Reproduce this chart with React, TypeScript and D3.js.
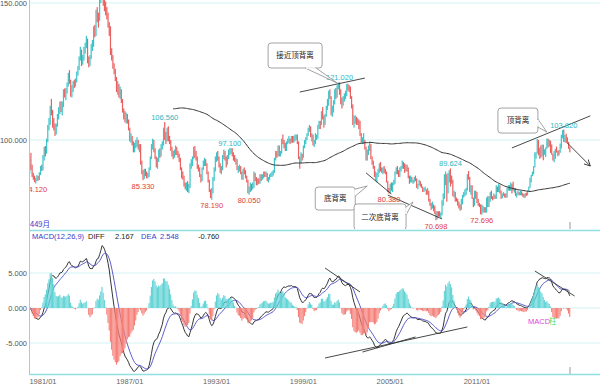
import React from "react";
import * as d3 from "d3";

// monthly US dollar index, first bar = 1980/02
const firstOpen = 88.0;

const closes: number[] = [
  92.0, 90.0, 87.0, 86.3, 85.0, 85.4, 86.5, 85.7, 87.6, 89.8, 89.5,
  93.0, 96.0, 95.5, 99.8, 104.5, 106.0, 111.5, 110.5, 106.5, 105.2, 102.5, 105.3,
  108.5, 110.5, 113.0, 111.0, 112.5, 117.0, 116.2, 117.5, 120.2, 123.0, 121.5, 116.5,
  119.0, 120.8, 120.5, 121.8, 124.5, 126.0, 129.8, 132.5, 128.5, 130.0, 133.0, 134.0,
  136.5, 129.0, 127.5, 130.0, 134.0, 134.5, 140.8, 138.5, 146.0, 145.5, 144.0, 151.0,
  154.0, 158.5, 151.0, 149.0, 147.5, 145.5, 142.0, 139.5, 132.0, 130.0, 127.0, 125.0,
  122.5, 118.5, 119.5, 116.5, 118.0, 114.5, 110.5, 109.0, 108.0, 108.5, 107.0, 104.0,
  100.5, 101.0, 99.0, 96.5, 98.0, 98.5, 99.5, 97.0, 97.5, 92.0, 88.5, 86.5,
  88.5, 88.0, 86.5, 87.0, 89.5, 93.5, 97.5, 98.8, 96.5, 93.5, 91.0, 92.5,
  96.0, 94.5, 97.5, 98.5, 104.0, 101.5, 100.0, 103.0, 100.5, 99.5, 97.0, 95.0,
  94.5, 95.5, 97.0, 95.5, 94.5, 93.0, 89.5, 87.0, 86.5, 83.5, 83.0, 84.0,
  82.0, 83.0, 90.5, 91.5, 93.5, 96.5, 94.5, 93.5, 90.0, 89.5, 87.0, 85.5,
  89.5, 91.5, 92.5, 91.5, 88.0, 85.0, 81.5, 79.5, 81.0, 85.5, 89.5, 93.0,
  94.5, 93.5, 91.0, 88.5, 89.5, 93.5, 95.5, 93.5, 91.5, 93.5, 95.5, 96.0,
  96.5, 94.5, 94.0, 92.5, 92.5, 89.5, 89.5, 90.0, 88.0, 86.0, 89.0, 88.5,
  86.5, 85.0, 81.5, 82.0, 83.5, 82.5, 83.0, 87.5, 85.5, 84.5, 85.0, 84.5,
  87.0, 86.0, 86.5, 87.5, 87.0, 87.5, 85.5, 85.5, 87.0, 87.5, 87.5, 88.5,
  93.0, 95.0, 94.5, 97.5, 94.5, 95.5, 100.0, 99.0, 98.5, 96.5, 99.0, 99.5,
  100.0, 99.5, 101.0, 99.5, 100.5, 101.0, 101.5, 99.0, 93.5, 92.0, 94.5, 94.0,
  97.5, 99.5, 100.5, 102.0, 104.0, 104.5, 101.5, 101.5, 98.5, 99.0, 101.5, 101.5,
  105.0, 106.5, 106.0, 110.0, 108.5, 106.0, 109.0, 112.0, 113.5, 117.0, 115.5, 109.5,
  111.0, 114.0, 117.5, 116.0, 119.5, 120.5, 117.5, 114.0, 113.0, 115.0, 116.5, 116.8,
  120.0, 119.5, 119.0, 115.5, 112.5, 106.5, 107.5, 107.5, 107.0, 107.0, 106.5, 102.0,
  99.5, 99.5, 99.5, 97.0, 93.5, 95.5, 97.0, 98.5, 93.5, 92.0, 90.5, 87.0,
  87.5, 87.5, 88.5, 91.0, 89.0, 88.5, 89.5, 89.0, 88.0, 85.0, 81.5, 81.0,
  83.5, 82.0, 84.0, 84.5, 88.0, 89.5, 88.5, 87.5, 89.5, 90.0, 91.5, 91.0,
  89.0, 90.0, 89.5, 86.5, 85.0, 85.5, 85.0, 85.0, 86.0, 85.5, 83.0, 83.5,
  84.5, 83.5, 83.0, 81.5, 82.0, 82.0, 80.5, 81.0, 78.0, 76.5, 76.0, 76.5,
  74.5, 73.5, 72.0, 73.5, 73.0, 72.5, 73.0, 77.0, 79.5, 86.0, 87.0, 81.5,
  87.5, 88.5, 85.5, 85.0, 80.0, 80.0, 78.5, 78.0, 76.5, 76.0, 75.0, 78.0,
  79.5, 80.5, 81.0, 82.0, 86.5, 86.0, 81.5, 83.0, 79.0, 77.5, 81.0, 79.0,
  77.5, 76.5, 76.0, 73.0, 74.5, 74.5, 74.0, 74.5, 78.5, 76.0, 78.5, 80.0,
  79.0, 78.5, 79.0, 78.8, 83.0, 81.5, 82.5, 81.0, 79.5, 80.0, 80.0, 79.8,
  79.2, 82.0, 83.0, 82.0, 83.5, 83.2, 81.5, 82.0, 80.2, 80.2, 80.7, 80.0,
  81.2, 80.2, 80.1, 79.5, 80.4, 79.8, 81.5, 82.8, 86.0, 87.0, 88.4, 90.3,
  94.8, 95.3, 98.4, 94.6, 96.9, 95.5, 97.3, 95.9, 96.3, 97.0, 100.2, 98.6,
  99.6, 98.2, 94.6, 93.0, 95.9, 96.1, 95.5, 96.0, 95.4, 98.4, 101.5, 102.2,
  99.5, 101.1, 100.4, 99.1, 97.0, 95.6,
];

const highs: number[] = [
  93.0, 95.3, 91.0, 88.0, 87.0, 86.2, 87.2, 86.9, 88.2, 90.5, 91.0,
  94.5, 97.5, 97.8, 100.5, 105.5, 108.0, 112.5, 115.0, 111.0, 108.0, 106.0, 106.0,
  109.5, 112.0, 114.0, 114.2, 114.0, 118.5, 118.8, 119.0, 121.0, 124.5, 125.5, 122.0,
  120.0, 121.5, 122.0, 122.5, 125.0, 127.0, 130.5, 134.0, 133.0, 131.0, 134.0, 135.5,
  138.0, 137.0, 130.5, 131.0, 135.0, 136.5, 141.5, 142.0, 147.5, 148.5, 146.5, 151.8,
  156.0, 164.7, 160.0, 153.0, 150.5, 148.5, 146.5, 143.0, 141.5, 133.5, 131.0, 128.0,
  126.0, 123.0, 121.5, 120.5, 119.5, 118.5, 115.0, 111.5, 110.5, 110.0, 109.5, 107.5,
  104.5, 102.5, 101.5, 99.5, 99.0, 100.0, 101.0, 100.0, 98.5, 98.5, 92.5, 89.0,
  89.5, 89.5, 88.5, 88.0, 90.0, 94.0, 98.5, 100.5, 100.0, 97.0, 94.0, 93.5,
  96.5, 97.0, 98.5, 99.5, 104.5, 106.56, 103.0, 104.5, 105.0, 101.5, 100.0, 97.5,
  96.0, 96.5, 98.0, 97.5, 96.0, 95.0, 93.5, 90.0, 88.5, 87.0, 84.5, 84.5,
  85.0, 84.0, 91.5, 93.0, 94.0, 97.5, 97.8, 96.0, 94.0, 91.0, 90.0, 87.5,
  90.0, 92.5, 93.5, 93.0, 91.5, 88.5, 85.5, 82.0, 82.5, 86.5, 90.0, 94.0,
  95.5, 96.0, 94.0, 91.5, 90.5, 94.5, 96.5, 96.0, 94.0, 94.5, 96.5, 97.1,
  97.0, 97.0, 95.5, 94.5, 93.5, 93.0, 90.5, 91.0, 90.5, 88.5, 89.5, 90.0,
  89.0, 87.0, 85.5, 83.0, 84.5, 84.0, 84.5, 88.5, 88.0, 86.5, 86.0, 86.0,
  87.5, 87.5, 87.5, 88.5, 88.5, 88.5, 88.0, 86.5, 87.5, 88.0, 88.5, 89.0,
  93.5, 96.0, 96.0, 98.0, 98.0, 96.0, 100.5, 102.0, 100.0, 99.0, 99.5, 100.5,
  101.5, 100.5, 101.5, 101.5, 101.5, 102.0, 102.0, 102.0, 99.5, 94.0, 95.5, 95.0,
  98.0, 100.0, 101.0, 102.5, 104.5, 105.5, 105.0, 102.5, 102.0, 100.0, 102.5, 102.0,
  105.5, 107.0, 107.0, 110.5, 112.0, 109.0, 109.5, 112.5, 115.0, 118.0, 118.5, 116.0,
  112.5, 114.5, 118.5, 119.0, 120.0, 121.0, 121.02, 118.5, 115.5, 116.0, 117.0, 118.0,
  120.5, 120.5, 120.0, 119.5, 116.0, 113.0, 109.0, 109.0, 108.5, 108.0, 107.5, 107.0,
  102.5, 101.0, 102.5, 100.0, 97.5, 96.5, 98.0, 99.5, 98.5, 94.0, 92.5, 90.5,
  88.5, 88.0, 89.5, 91.5, 92.0, 90.0, 90.0, 90.5, 89.5, 88.5, 85.0, 82.5,
  84.0, 84.5, 84.5, 85.5, 88.5, 90.0, 90.5, 89.0, 90.0, 90.5, 92.5, 92.0,
  91.5, 91.0, 91.0, 90.0, 87.0, 87.0, 86.5, 85.5, 86.5, 87.0, 86.0, 84.0,
  85.5, 85.0, 84.0, 83.0, 82.5, 83.0, 82.0, 82.5, 81.5, 78.5, 77.0, 77.5,
  76.5, 76.0, 74.0, 74.0, 74.0, 74.0, 73.5, 78.0, 80.5, 87.5, 88.5, 87.5,
  88.0, 89.0, 89.624, 87.0, 85.5, 81.5, 81.0, 79.0, 78.5, 77.5, 76.5, 78.5,
  80.0, 81.0, 82.0, 82.5, 87.5, 88.7, 86.5, 83.5, 83.5, 79.0, 81.5, 81.5,
  81.0, 78.5, 77.0, 76.5, 76.5, 76.0, 75.5, 75.5, 79.0, 79.5, 79.5, 81.0,
  81.5, 79.5, 80.5, 80.0, 83.5, 83.0, 84.0, 83.5, 81.5, 80.5, 81.0, 80.5,
  80.5, 82.5, 83.5, 83.5, 84.5, 84.0, 84.8, 82.5, 82.5, 80.8, 81.5, 81.0,
  81.5, 81.3, 80.6, 80.3, 80.6, 80.8, 81.6, 83.0, 86.2, 87.3, 88.5, 90.5,
  95.5, 95.5, 100.4, 100.0, 97.2, 98.0, 98.3, 98.3, 96.6, 97.3, 100.5, 100.5,
  100.1, 99.8, 98.4, 95.0, 96.0, 96.8, 97.6, 96.1, 96.3, 98.7, 101.9, 103.6,
  103.82, 101.8, 102.3, 101.0, 99.3, 97.6,
];

const lows: number[] = [
  87.5, 89.0, 86.5, 85.5, 84.6, 84.12, 85.0, 85.2, 85.4, 87.2, 88.7,
  88.9, 92.5, 94.0, 95.0, 99.2, 103.5, 105.5, 109.0, 104.5, 103.5, 101.5, 102.0,
  104.8, 107.5, 109.5, 110.2, 109.0, 112.0, 115.5, 114.5, 117.0, 119.5, 120.5, 115.8,
  115.5, 117.5, 119.0, 119.5, 121.0, 123.5, 125.5, 129.0, 127.0, 127.5, 129.0, 131.5,
  133.5, 128.0, 126.5, 127.0, 129.5, 132.5, 134.0, 137.5, 138.0, 143.0, 141.0, 143.5,
  150.0, 153.0, 149.0, 147.0, 145.5, 144.0, 141.0, 138.0, 131.0, 129.0, 126.0, 124.0,
  121.5, 117.5, 116.5, 115.5, 115.0, 113.5, 110.0, 107.5, 106.5, 106.0, 106.0, 103.5,
  99.5, 99.0, 98.0, 95.5, 95.5, 97.0, 97.5, 96.5, 95.5, 91.0, 87.5, 85.33,
  85.8, 86.8, 86.0, 86.0, 86.5, 89.0, 93.0, 96.5, 95.5, 93.0, 90.0, 89.5,
  92.0, 93.5, 94.0, 96.5, 98.0, 100.0, 98.5, 99.5, 99.5, 98.5, 96.0, 94.0,
  93.0, 93.5, 94.5, 94.5, 93.5, 92.0, 89.0, 86.0, 85.5, 83.0, 82.0, 81.5,
  81.0, 80.6, 82.5, 89.5, 90.5, 93.0, 93.5, 92.5, 89.5, 88.5, 86.5, 84.5,
  85.0, 89.0, 90.5, 90.5, 87.5, 84.5, 81.0, 78.8, 78.19, 80.5, 85.0, 88.5,
  92.0, 92.5, 90.0, 88.0, 87.5, 89.0, 93.0, 92.5, 90.0, 91.0, 93.0, 94.5,
  95.0, 94.0, 92.5, 92.0, 91.0, 89.0, 88.0, 88.5, 87.5, 85.5, 85.5, 87.5,
  86.0, 84.5, 80.5, 80.05, 81.0, 81.5, 82.0, 82.5, 85.0, 83.5, 83.5, 84.0,
  84.0, 85.0, 85.5, 86.0, 86.5, 86.5, 85.0, 84.5, 85.5, 86.5, 86.5, 87.0,
  88.0, 92.5, 93.5, 94.0, 94.0, 94.0, 95.0, 98.5, 97.0, 96.0, 96.0, 98.5,
  99.0, 98.5, 99.0, 99.0, 99.0, 99.5, 100.0, 98.5, 93.0, 89.5, 91.5, 92.5,
  93.5, 97.0, 98.5, 100.0, 101.5, 103.0, 101.0, 99.5, 98.0, 97.5, 98.5, 100.0,
  100.5, 104.0, 104.0, 105.5, 107.5, 104.5, 105.5, 108.5, 111.0, 112.5, 115.0, 109.0,
  108.5, 110.0, 113.0, 115.0, 115.5, 118.5, 116.5, 113.0, 111.5, 112.5, 114.0, 115.0,
  116.0, 118.0, 117.5, 115.0, 111.5, 105.5, 104.5, 106.0, 105.5, 105.5, 104.0, 101.5,
  99.0, 98.5, 98.5, 96.5, 92.5, 92.5, 94.5, 96.0, 93.0, 91.0, 89.5, 86.5,
  85.0, 84.5, 86.5, 88.0, 88.5, 88.0, 87.5, 88.0, 87.5, 84.5, 81.0, 80.38,
  80.5, 81.5, 81.0, 83.5, 84.0, 87.5, 87.5, 86.5, 86.5, 88.5, 89.5, 89.5,
  88.0, 88.5, 88.5, 86.0, 84.0, 84.5, 84.5, 84.0, 84.5, 85.0, 82.5, 82.0,
  83.5, 83.0, 82.5, 81.0, 81.0, 81.5, 80.0, 80.0, 77.5, 76.0, 74.5, 75.0,
  74.0, 73.0, 70.698, 71.0, 72.0, 72.0, 71.5, 72.5, 76.0, 78.5, 83.5, 77.5,
  80.5, 84.5, 83.0, 84.0, 79.5, 79.0, 77.5, 77.5, 76.0, 75.0, 74.2, 74.5,
  76.5, 79.0, 79.5, 80.0, 81.5, 85.5, 81.0, 80.0, 78.5, 75.5, 76.0, 78.5,
  77.0, 76.0, 75.5, 72.9, 72.696, 73.5, 73.5, 73.5, 73.5, 75.5, 75.5, 77.5,
  78.5, 78.0, 78.5, 78.5, 78.5, 81.0, 81.0, 80.5, 78.5, 78.8, 79.5, 79.0,
  78.9, 79.0, 81.5, 81.5, 81.5, 80.5, 81.5, 80.8, 79.6, 79.0, 80.0, 79.8,
  79.8, 79.8, 79.3, 78.9, 78.9, 79.6, 79.8, 81.3, 82.5, 84.5, 86.8, 87.5,
  90.0, 93.2, 95.1, 94.4, 93.1, 93.5, 94.1, 92.6, 94.6, 93.8, 96.8, 97.3,
  97.6, 95.3, 94.6, 92.5, 91.9, 93.1, 95.4, 94.0, 94.4, 95.3, 96.9, 100.6,
  99.2, 99.2, 98.9, 98.8, 96.8, 95.5,
];

const priceTicks = [100, 150];
const macdTicks = [5, 0, -5];
const dateTicks = ["1981/01", "1987/01", "1993/01", "1999/01", "2005/01", "2011/01"];

const extremes = [
  { date: "1980-07", kind: "low" },
  { date: "1987-12", kind: "low" },
  { date: "1992-09", kind: "low" },
  { date: "1995-04", kind: "low" },
  { date: "2004-12", kind: "low" },
  { date: "2008-03", kind: "low" },
  { date: "2011-05", kind: "low" },
  { date: "1989-06", kind: "high" },
  { date: "1993-12", kind: "high" },
  { date: "2001-07", kind: "high" },
  { date: "2009-03", kind: "high" },
  { date: "2017-01", kind: "high" },
];

// header readout, as printed on the chart
const readout = { diff: "2.167", dea: "2.548", macd: "-0.760" };

const priceLines = [
  { from: ["1998-10", 117.5], to: ["2003-04", 122.6] },
  { from: ["2013-06", 97.1], to: ["2018-11", 108.8] },
  { from: ["2003-05", 88.0], to: ["2005-02", 80.3] },
  { from: ["2004-11", 79.9], to: ["2008-08", 71.2] },
];
const arrowLine = { from: ["2017-04", 98.9], to: ["2018-11", 90.5] };
const macdLines = [
  { from: ["2000-07", 5.71], to: ["2002-12", 2.29] },
  { from: ["2015-01", 5.29], to: ["2017-10", 1.71] },
  { from: ["2000-07", -7.14], to: ["2010-05", -2.71] },
  { from: ["2003-02", -6.29], to: ["2006-10", -4.14] },
];

const callouts = [
  { text: "接近顶背离", date: "2001-05", value: 120.8, dx: -69, dy: -40, w: 54, h: 25, side: "bottom", t1: -32, t2: -21 },
  { text: "顶背离", date: "2015-11", value: 102.9, dx: -49, dy: -24, w: 40, h: 25, side: "right", t1: -13, t2: -5 },
  { text: "底背离", date: "2003-06", value: 83.2, dx: -52, dy: 1, w: 40, h: 23, side: "right", t1: 3, t2: 10 },
  { text: "二次底背离", date: "2006-08", value: 77.4, dx: -59, dy: 2, w: 52, h: 26, side: "right", t1: 5, t2: 13 },
];

const UP = "#3cc4c8";
const DOWN = "#ec5f5f";
const FONT = "'Liberation Sans', Arial, sans-serif";
const CJK = "'Noto Sans CJK SC', sans-serif";

function monthIndex(s: string) {
  const [y, m] = s.split(/[-/]/).map(Number);
  return (y - 1980) * 12 + (m - 2);
}

function ema(values: number[], n: number) {
  const a = 2 / (n + 1);
  const out: number[] = [];
  values.forEach((v, i) => out.push(i === 0 ? v : a * v + (1 - a) * out[i - 1]));
  return out;
}

export default function App() {
  const n = closes.length;
  const opens = closes.map((c, i) => (i === 0 ? firstOpen : closes[i - 1]));

  const x = d3.scaleLinear().domain([0, n - 1]).range([29.7, 569.8]);
  const step = x(1) - x(0);
  const yP = d3.scaleLinear().domain([100, 150]).range([140, 3]);
  const yM = d3.scaleLinear().domain([0, 5]).range([308, 273]);

  const ma = closes.map((_, i) => (i < 119 ? null : d3.mean(closes.slice(i - 119, i + 1)) as number));
  const e12 = ema(closes, 12);
  const e26 = ema(closes, 26);
  const diff = e12.map((v, i) => v - e26[i]);
  const dea = ema(diff, 9);
  const bars = diff.map((v, i) => 2 * (v - dea[i]));

  const maPath = d3
    .line<number | null>()
    .defined((d) => d !== null)
    .x((_, i) => x(i))
    .y((d) => yP(d as number))(ma);
  const mLine = d3
    .line<number>()
    .x((_, i) => x(i))
    .y((d) => yM(d));

  const px = (p: any[], y: any) => [x(monthIndex(p[0])), y(p[1])];

  return (
    <svg width={600} height={387} style={{ position: "absolute", left: 0, top: 0, background: "#fff" }}>
      <defs>
        <clipPath id="mainClip">
          <rect x={30} y={0} width={570} height={229} />
        </clipPath>
        <clipPath id="macdClip">
          <rect x={30} y={232} width={570} height={142} />
        </clipPath>
        <marker id="arr" viewBox="0 0 8 8" refX={7} refY={4} markerWidth={8} markerHeight={8} orient="auto">
          <path d="M0,0.5 L7,4 L0,7.5" fill="none" stroke="#333" strokeWidth={1} />
        </marker>
      </defs>

      {/* grid */}
      {priceTicks.map((t) => (
        <line key={"pg" + t} x1={30} x2={600} y1={yP(t)} y2={yP(t)} stroke="#d3f1f3" />
      ))}
      {macdTicks.map((t) => (
        <line key={"mg" + t} x1={30} x2={600} y1={yM(t)} y2={yM(t)} stroke="#d3f1f3" />
      ))}

      {/* axis labels */}
      {priceTicks.map((t) => (
        <text key={"pt" + t} x={27} y={yP(t) + 3} textAnchor="end" fontSize={7.5} fill="#555" fontFamily={FONT}>
          {t.toFixed(3)}
        </text>
      ))}
      {macdTicks.map((t) => (
        <text key={"mt" + t} x={27} y={yM(t) + 3} textAnchor="end" fontSize={7.5} fill="#555" fontFamily={FONT}>
          {t.toFixed(3)}
        </text>
      ))}
      {dateTicks.map((d) => (
        <text key={d} x={x(monthIndex(d))} y={384} textAnchor="middle" fontSize={7.5} fill="#666" fontFamily={FONT}>
          {d}
        </text>
      ))}

      {/* price panel */}
      <g clipPath="url(#mainClip)">
        {closes.map((c, i) => {
          const up = c >= opens[i];
          const y1 = yP(highs[i]);
          const y2 = yP(lows[i]);
          return (
            <rect
              key={i}
              x={x(i) - 0.6}
              y={y1}
              width={1.2}
              height={Math.max(1, y2 - y1)}
              fill={up ? UP : DOWN}
            />
          );
        })}
        <path d={maPath || ""} fill="none" stroke="#333" strokeWidth={1} />
        {priceLines.map((l, k) => {
          const [x1, y1] = px(l.from, yP);
          const [x2, y2] = px(l.to, yP);
          return <line key={k} x1={x1} y1={y1} x2={x2} y2={y2} stroke="#333" strokeWidth={0.9} />;
        })}
        {(() => {
          const [x1, y1] = px(arrowLine.from, yP);
          const [x2, y2] = px(arrowLine.to, yP);
          return <line x1={x1} y1={y1} x2={x2} y2={y2} stroke="#333" strokeWidth={0.9} markerEnd="url(#arr)" />;
        })()}
        {extremes.map((e) => {
          const i = monthIndex(e.date);
          const hi = e.kind === "high";
          const v = hi ? highs[i] : lows[i];
          return (
            <text
              key={e.date}
              x={x(i)}
              y={hi ? yP(v) - 2 : yP(v) + 8.5}
              textAnchor="middle"
              fontSize={7.5}
              fill={hi ? "#2cb8c2" : "#e23c3c"}
              fontFamily={FONT}
            >
              {v.toFixed(3)}
            </text>
          );
        })}
        {callouts.map((c) => {
          const tx = x(monthIndex(c.date));
          const ty = yP(c.value);
          const bx = tx + c.dx;
          const by = ty + c.dy;
          let b1: number[], b2: number[];
          if (c.side === "bottom") {
            b1 = [tx + c.t1, by + c.h];
            b2 = [tx + c.t2, by + c.h];
          } else {
            b1 = [bx + c.w, ty + c.t1];
            b2 = [bx + c.w, ty + c.t2];
          }
          const inset = c.side === "bottom" ? [[b1[0] + 0.6, b1[1]], [b2[0] - 0.6, b2[1]]] : [[b1[0], b1[1] + 0.6], [b2[0], b2[1] - 0.6]];
          return (
            <g key={c.text}>
              <rect x={bx} y={by} width={c.w} height={c.h} rx={3} fill="#fff" stroke="#8c8c8c" strokeWidth={0.8} />
              <polygon points={`${b1.join(",")} ${tx},${ty} ${b2.join(",")}`} fill="#fff" stroke="#8c8c8c" strokeWidth={0.8} />
              <line x1={inset[0][0]} y1={inset[0][1]} x2={inset[1][0]} y2={inset[1][1]} stroke="#fff" strokeWidth={1.6} />
              <text x={bx + c.w / 2} y={by + c.h / 2 + 2.6} textAnchor="middle" fontSize={7.5} fill="#222" fontFamily={CJK}>
                {c.text}
              </text>
            </g>
          );
        })}
      </g>
      <text x={30} y={227} fontSize={7.5} fill="#3b3bc8" fontFamily={CJK}>
        {`${n}月`}
      </text>
      <line x1={Math.round(x(n - 1))} x2={Math.round(x(n - 1))} y1={222} y2={229} stroke="#999" />

      {/* MACD panel */}
      <g clipPath="url(#macdClip)">
        <path d={mLine(diff) || ""} fill="none" stroke="#1e1e1e" strokeWidth={0.9} />
        <path d={mLine(dea) || ""} fill="none" stroke="#4a4ac6" strokeWidth={0.9} />
        {bars.map((b, i) => {
          const y0 = yM(0);
          const y1 = yM(b);
          return (
            <rect
              key={i}
              x={x(i) - step / 2}
              y={Math.min(y0, y1)}
              width={step * 0.9}
              height={Math.abs(y1 - y0)}
              fill={b >= 0 ? "#5fd3d5" : "#f57e77"}
            />
          );
        })}
        {macdLines.map((l, k) => {
          const [x1, y1] = px(l.from, yM);
          const [x2, y2] = px(l.to, yM);
          return <line key={k} x1={x1} y1={y1} x2={x2} y2={y2} stroke="#333" strokeWidth={0.9} />;
        })}
      </g>
      <line x1={Math.round(x(n - 1))} x2={Math.round(x(n - 1))} y1={367} y2={374} stroke="#999" />
      <text x={528} y={324} fontSize={7.5} fill="#e044e0" fontFamily={FONT}>MACD</text>
      <text x={549} y={324} fontSize={7.5} fill="#55dd55" fontFamily={CJK}>柱</text>

      <g fontSize={7.5} fontFamily={FONT}>
        <text x={32} y={239} fill="#3b3bc8">MACD(12,26,9)</text>
        <text x={88} y={239} fill="#222">DIFF</text>
        <text x={115} y={239} fill="#222">{readout.diff}</text>
        <text x={141} y={239} fill="#3b3bc8">DEA</text>
        <text x={160} y={239} fill="#3b3bc8">{readout.dea}</text>
        <text x={198} y={239} fill="#222">{readout.macd}</text>
      </g>

      {/* frame */}
      <line x1={29.5} x2={29.5} y1={0} y2={375} stroke="#86d9dd" strokeWidth={1} />
      <line x1={29.5} x2={600} y1={230.5} y2={230.5} stroke="#8fdfe3" strokeWidth={1.5} />
      <line x1={29.5} x2={600} y1={374.5} y2={374.5} stroke="#8fdfe3" strokeWidth={1.5} />
    </svg>
  );
}
